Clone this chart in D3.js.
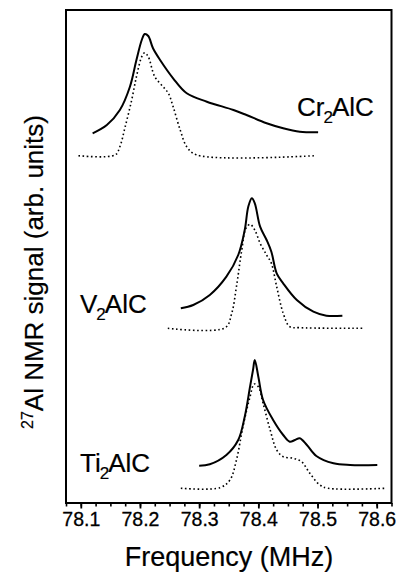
<!DOCTYPE html>
<html>
<head>
<meta charset="utf-8">
<script src="https://cdn.jsdelivr.net/npm/d3@7"></script>
<style>
  html, body { margin: 0; padding: 0; background: #fff; }
  svg { display: block; }
  text { font-family: "Liberation Sans", Arial, Helvetica, sans-serif; fill: #000; }
</style>
</head>
<body>
<svg id="chart" width="398" height="575"></svg>
<script>
// ---- data (frequency in MHz, signal in arbitrary units) ----
const xTicksMajor = [78.1, 78.2, 78.3, 78.4, 78.5, 78.6];
const xDomain = [78.075, 78.625];

const crSolidF = [78.120,78.144,78.166,78.183,78.194,78.203,78.208,78.214,78.222,78.234,78.256,78.279,78.313,78.358,78.380,78.414,78.442,78.470,78.501];
const crSolidS = [369.7,378,393,416.3,443,463,469,467,454.7,443,424.7,409.7,401.3,393,388,379.7,374.7,371.3,370.7];
const crDotF = [78.096,78.158,78.166,78.175,78.186,78.194,78.203,78.208,78.214,78.225,78.239,78.248,78.256,78.268,78.279,78.296,78.496];
const crDotS = [347.3,348,356.3,376.3,403,426.3,446.3,450.3,446.3,426.3,416.3,409.7,396.3,373,356.3,348,347.3];

const vSolidF = [78.269,78.290,78.318,78.346,78.366,78.377,78.383,78.389,78.394,78.403,78.414,78.422,78.431,78.442,78.465,78.493,78.515,78.542];
const vSolidS = [194.7,198,208,226.3,248,273,296.3,304.7,299.7,276.3,263,251.3,229.7,219.7,203,191.3,187.3,187.3];
const vDotF = [78.247,78.344,78.355,78.363,78.372,78.379,78.386,78.394,78.403,78.414,78.422,78.431,78.442,78.453,78.470,78.576];
const vDotS = [174.7,175.3,189.7,216.3,253,274.7,278.7,273,259.7,248,239.7,216.3,189.7,176.3,175.3,174.7];

const tiSolidF = [78.300,78.318,78.346,78.366,78.377,78.386,78.391,78.394,78.400,78.408,78.425,78.442,78.453,78.462,78.470,78.482,78.498,78.527,78.555,78.601];
const tiSolidS = [37.3,38.7,48,63,86.3,116.3,133,143,126.3,103,83,68,61.3,63,64.7,58,47,39.7,38,38];
const tiDotF = [78.269,78.335,78.352,78.363,78.374,78.386,78.393,78.400,78.408,78.420,78.431,78.442,78.459,78.473,78.487,78.504,78.518,78.615];
const tiDotS = [14.7,15.3,23,43,76.3,106.3,119,116.3,99.7,73,53,46.3,44.7,41.3,29.7,18,14.7,14.7];

const sampleNames = ["Cr", "V", "Ti"];
const yDomain = [0, 493];

// ---- layout ----
const svg = d3.select("#chart");
const L = 66, R = 391.5, T = 10, B = 503;

const x = d3.scaleLinear().domain(xDomain).range([L, R]);
const y = d3.scaleLinear().domain(yDomain).range([B, T]);

const line = d3.line()
  .x(d => x(d[0])).y(d => y(d[1]))
  .curve(d3.curveCatmullRom.alpha(0.5));

const zip = (a, b) => a.map((v, i) => [v, b[i]]);

const series = [
  {f: crSolidF, s: crSolidS, dotted: false},
  {f: crDotF, s: crDotS, dotted: true},
  {f: vSolidF, s: vSolidS, dotted: false},
  {f: vDotF, s: vDotS, dotted: true},
  {f: tiSolidF, s: tiSolidS, dotted: false},
  {f: tiDotF, s: tiDotS, dotted: true}
];

svg.append("g").selectAll("path").data(series).join("path")
  .attr("d", d => line(zip(d.f, d.s)))
  .attr("fill", "none")
  .attr("stroke", "#000")
  .attr("stroke-width", d => d.dotted ? 1.6 : 2)
  .attr("stroke-dasharray", d => d.dotted ? "1.6,2.6" : null)
  .attr("stroke-linejoin", "round");

// frame
svg.append("rect")
  .attr("x", L).attr("y", T).attr("width", R - L).attr("height", B - T)
  .attr("fill", "none").attr("stroke", "#000").attr("stroke-width", 2);

// x axis ticks
const minorTicks = d3.range(0, 23).map(i => +(xDomain[0] + i * 0.025).toFixed(3));
const axisMinor = d3.axisBottom(x).tickValues(minorTicks).tickSize(3.5).tickFormat("");
const axisMajor = d3.axisBottom(x).tickValues(xTicksMajor).tickSize(5.5).tickPadding(4)
  .tickFormat(d3.format(".1f"));

const gMin = svg.append("g").attr("transform", `translate(0,${B})`).call(axisMinor);
gMin.select(".domain").remove();
gMin.selectAll("line").attr("stroke-width", 1.6);

const gMaj = svg.append("g").attr("transform", `translate(0,${B})`).call(axisMajor);
gMaj.select(".domain").remove();
gMaj.selectAll("line").attr("stroke-width", 1.8);
gMaj.selectAll("text").attr("font-size", 19.5).attr("font-family", "Liberation Sans, Arial, sans-serif")
  .attr("fill", "#000").attr("stroke", "#000").attr("stroke-width", 0.3);

// axis titles
svg.append("text")
  .attr("x", 229).attr("y", 566)
  .attr("text-anchor", "middle").attr("font-size", 27)
  .attr("stroke", "#000").attr("stroke-width", 0.2)
  .text("Frequency (MHz)");

const yt = svg.append("text")
  .attr("transform", "translate(43,272) rotate(-90)")
  .attr("text-anchor", "middle").attr("font-size", 26)
  .attr("stroke", "#000").attr("stroke-width", 0.2);
yt.append("tspan").attr("font-size", 16).attr("dy", -10).text("27");
yt.append("tspan").attr("dy", 10).text("Al NMR signal (arb. units)");

// sample labels
const labels = [
  {name: sampleNames[0], x: 297, y: 116},
  {name: sampleNames[1], x: 80, y: 313},
  {name: sampleNames[2], x: 80, y: 472}
];
labels.forEach(l => {
  const t = svg.append("text").attr("x", l.x).attr("y", l.y).attr("font-size", 26)
    .attr("stroke", "#000").attr("stroke-width", 0.2);
  t.append("tspan").text(l.name);
  t.append("tspan").attr("font-size", 17).attr("dy", 7).attr("dx", -1).text("2");
  t.append("tspan").attr("dy", -7).attr("dx", -1).text("AlC");
});
</script>
</body>
</html>
